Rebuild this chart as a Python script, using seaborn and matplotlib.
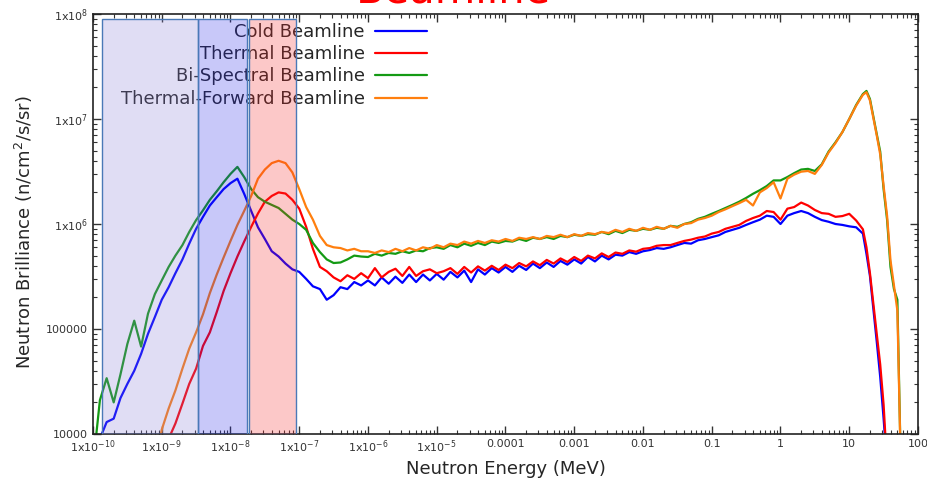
import matplotlib
matplotlib.use("Agg")
import matplotlib.pyplot as plt
from matplotlib.ticker import LogLocator, NullFormatter
import seaborn as sns
import pandas as pd
import numpy as np

# energy grid (MeV) shared by the four spectra
energy_mev = [
    1.0e-10, 1.26e-10, 1.58e-10, 2.0e-10, 2.51e-10, 3.16e-10, 3.98e-10, 5.01e-10, 6.31e-10, 7.94e-10,
    1.0e-9, 1.26e-9, 1.58e-9, 2.0e-9, 2.51e-9, 3.16e-9, 3.98e-9, 5.01e-9, 6.31e-9, 7.94e-9,
    1.0e-8, 1.26e-8, 1.58e-8, 2.0e-8, 2.51e-8, 3.16e-8, 3.98e-8, 5.01e-8, 6.31e-8, 7.94e-8,
    1.0e-7, 1.26e-7, 1.58e-7, 2.0e-7, 2.51e-7, 3.16e-7, 3.98e-7, 5.01e-7, 6.31e-7, 7.94e-7,
    1.0e-6, 1.26e-6, 1.58e-6, 2.0e-6, 2.51e-6, 3.16e-6, 3.98e-6, 5.01e-6, 6.31e-6, 7.94e-6,
    1.0e-5, 1.26e-5, 1.58e-5, 2.0e-5, 2.51e-5, 3.16e-5, 3.98e-5, 5.01e-5, 6.31e-5, 7.94e-5,
    1.0e-4, 1.26e-4, 1.58e-4, 2.0e-4, 2.51e-4, 3.16e-4, 3.98e-4, 5.01e-4, 6.31e-4, 7.94e-4,
    1.0e-3, 1.26e-3, 1.58e-3, 2.0e-3, 2.51e-3, 3.16e-3, 3.98e-3, 5.01e-3, 6.31e-3, 7.94e-3,
    1.0e-2, 1.26e-2, 1.58e-2, 2.0e-2, 2.51e-2, 3.16e-2, 3.98e-2, 5.01e-2, 6.31e-2, 7.94e-2,
    0.1, 0.126, 0.158, 0.2, 0.251, 0.316, 0.398, 0.501, 0.631, 0.794,
    1.0, 1.26, 1.58, 2.0, 2.51, 3.16, 3.98, 5.01, 6.31, 7.94,
    10.0, 12.6, 15.8, 17.8, 20.0, 25.1, 28.2, 31.6, 35.5, 39.8, 44.7, 50.1, 56.2,
]

cold = [
    5e3, 9e3, 1.3e4, 1.4e4, 2.2e4, 3.0e4, 4.0e4, 5.8e4, 9.0e4, 1.3e5,
    1.9e5, 2.5e5, 3.4e5, 4.6e5, 6.5e5, 9.0e5, 1.17e6, 1.5e6, 1.8e6, 2.15e6,
    2.45e6, 2.7e6, 1.94e6, 1.33e6, 9.3e5, 7.2e5, 5.5e5, 4.9e5, 4.2e5, 3.7e5,
    3.5e5, 3.0e5, 2.55e5, 2.4e5, 1.9e5, 2.1e5, 2.5e5, 2.4e5, 2.8e5, 2.6e5,
    2.9e5, 2.6e5, 3.1e5, 2.7e5, 3.15e5, 2.75e5, 3.3e5, 2.8e5, 3.3e5, 2.9e5,
    3.35e5, 2.95e5, 3.5e5, 3.1e5, 3.6e5, 2.8e5, 3.7e5, 3.3e5, 3.8e5, 3.45e5,
    3.9e5, 3.5e5, 4.0e5, 3.65e5, 4.2e5, 3.8e5, 4.3e5, 3.9e5, 4.45e5, 4.1e5,
    4.6e5, 4.2e5, 4.85e5, 4.4e5, 5.0e5, 4.6e5, 5.1e5, 5.0e5, 5.4e5, 5.2e5,
    5.5e5, 5.65e5, 5.9e5, 5.8e5, 6.0e5, 6.3e5, 6.6e5, 6.5e5, 7.0e5, 7.2e5,
    7.5e5, 7.8e5, 8.4e5, 8.8e5, 9.2e5, 9.8e5, 1.04e6, 1.1e6, 1.2e6, 1.17e6,
    1.0e6, 1.2e6, 1.27e6, 1.33e6, 1.27e6, 1.17e6, 1.09e6, 1.05e6, 1.0e6, 9.8e5,
    9.5e5, 9.3e5, 8.1e5, 5.2e5, 3.2e5, 7.6e4, 3.5e4, 1.4e4, 5e3, 5e3, 5e3, 5e3, 5e3,
]

thermal = [
    5e3, 5e3, 5e3, 5e3, 5e3, 5e3, 5e3, 5e3, 5e3, 5e3,
    5e3, 9e3, 1.26e4, 1.95e4, 3.0e4, 4.2e4, 6.9e4, 9.3e4, 1.45e5, 2.3e5,
    3.4e5, 4.9e5, 6.8e5, 9.4e5, 1.26e6, 1.63e6, 1.85e6, 2.0e6, 1.95e6, 1.7e6,
    1.4e6, 9.4e5, 5.8e5, 3.9e5, 3.55e5, 3.1e5, 2.85e5, 3.25e5, 3.0e5, 3.4e5,
    3.05e5, 3.8e5, 3.1e5, 3.5e5, 3.75e5, 3.2e5, 3.9e5, 3.2e5, 3.55e5, 3.7e5,
    3.4e5, 3.55e5, 3.8e5, 3.35e5, 3.9e5, 3.45e5, 3.95e5, 3.6e5, 4.0e5, 3.65e5,
    4.1e5, 3.8e5, 4.25e5, 3.95e5, 4.4e5, 4.05e5, 4.55e5, 4.2e5, 4.7e5, 4.35e5,
    4.85e5, 4.45e5, 5.0e5, 4.7e5, 5.25e5, 4.85e5, 5.35e5, 5.2e5, 5.6e5, 5.45e5,
    5.8e5, 5.9e5, 6.2e5, 6.3e5, 6.3e5, 6.6e5, 6.9e5, 7.1e5, 7.4e5, 7.6e5,
    8.1e5, 8.4e5, 9.0e5, 9.4e5, 9.8e5, 1.07e6, 1.14e6, 1.2e6, 1.33e6, 1.3e6,
    1.1e6, 1.4e6, 1.45e6, 1.6e6, 1.5e6, 1.36e6, 1.27e6, 1.25e6, 1.17e6, 1.19e6,
    1.25e6, 1.08e6, 8.9e5, 6.0e5, 3.4e5, 9.0e4, 4.6e4, 1.9e4, 5e3, 5e3, 5e3, 5e3, 5e3,
]

bispectral = [
    5e3, 2.1e4, 3.4e4, 2.0e4, 3.7e4, 7.2e4, 1.2e5, 6.8e4, 1.4e5, 2.15e5,
    2.9e5, 3.9e5, 5.0e5, 6.3e5, 8.4e5, 1.09e6, 1.35e6, 1.7e6, 2.05e6, 2.5e6,
    3.0e6, 3.5e6, 2.8e6, 2.15e6, 1.8e6, 1.63e6, 1.52e6, 1.42e6, 1.25e6, 1.1e6,
    1.0e6, 8.8e5, 6.6e5, 5.4e5, 4.6e5, 4.25e5, 4.3e5, 4.6e5, 5.0e5, 4.9e5,
    4.85e5, 5.2e5, 5.0e5, 5.3e5, 5.2e5, 5.5e5, 5.3e5, 5.6e5, 5.5e5, 5.9e5,
    6.0e5, 5.8e5, 6.3e5, 6.0e5, 6.5e5, 6.2e5, 6.6e5, 6.3e5, 6.8e5, 6.6e5,
    6.9e5, 6.8e5, 7.2e5, 6.9e5, 7.4e5, 7.2e5, 7.5e5, 7.2e5, 7.7e5, 7.5e5,
    7.9e5, 7.7e5, 8.0e5, 7.9e5, 8.4e5, 8.0e5, 8.6e5, 8.2e5, 8.8e5, 8.6e5,
    9.0e5, 8.8e5, 9.2e5, 9.0e5, 9.6e5, 9.4e5, 1.0e6, 1.04e6, 1.12e6, 1.17e6,
    1.25e6, 1.33e6, 1.42e6, 1.52e6, 1.63e6, 1.77e6, 1.94e6, 2.1e6, 2.3e6, 2.6e6,
    2.6e6, 2.8e6, 3.05e6, 3.3e6, 3.35e6, 3.2e6, 3.7e6, 4.9e6, 6.0e6, 7.5e6,
    1.0e7, 1.36e7, 1.73e7, 1.85e7, 1.55e7, 7.2e6, 4.9e6, 2.15e6, 1.1e6, 3.9e5, 2.4e5, 1.9e5, 5e3,
]

thermal_forward = [
    5e3, 5e3, 5e3, 5e3, 5e3, 5e3, 5e3, 5e3, 5e3, 5e3,
    1.1e4, 1.75e4, 2.6e4, 4.2e4, 6.5e4, 9.3e4, 1.38e5, 2.2e5, 3.3e5, 4.8e5,
    6.9e5, 9.8e5, 1.33e6, 1.85e6, 2.7e6, 3.3e6, 3.8e6, 4.0e6, 3.8e6, 3.1e6,
    2.15e6, 1.45e6, 1.1e6, 7.7e5, 6.3e5, 6.0e5, 5.9e5, 5.6e5, 5.8e5, 5.5e5,
    5.5e5, 5.3e5, 5.6e5, 5.4e5, 5.8e5, 5.5e5, 5.9e5, 5.6e5, 6.0e5, 5.8e5,
    6.3e5, 6.0e5, 6.5e5, 6.3e5, 6.8e5, 6.5e5, 6.9e5, 6.6e5, 7.0e5, 6.8e5,
    7.2e5, 6.9e5, 7.4e5, 7.2e5, 7.5e5, 7.2e5, 7.7e5, 7.5e5, 7.9e5, 7.5e5,
    8.0e5, 7.7e5, 8.2e5, 8.0e5, 8.4e5, 8.2e5, 8.8e5, 8.4e5, 9.0e5, 8.6e5,
    9.2e5, 8.8e5, 9.4e5, 9.0e5, 9.6e5, 9.2e5, 1.0e6, 1.02e6, 1.1e6, 1.14e6,
    1.2e6, 1.3e6, 1.38e6, 1.48e6, 1.58e6, 1.7e6, 1.5e6, 2.0e6, 2.2e6, 2.5e6,
    1.75e6, 2.7e6, 2.95e6, 3.15e6, 3.2e6, 3.0e6, 3.65e6, 4.8e6, 5.9e6, 7.5e6,
    1.0e7, 1.34e7, 1.7e7, 1.8e7, 1.5e7, 7.0e6, 4.6e6, 2.3e6, 1.2e6, 4.5e5, 2.6e5, 1.5e5, 5e3,
]

beamlines = ["Cold Beamline", "Thermal Beamline", "Bi-Spectral Beamline", "Thermal-Forward Beamline"]
colors = ["#0000ff", "#ff0000", "#149a14", "#ff7f0e"]

# shaded energy bands
band_lo = [1.35e-10, 3.4e-9, 1.87e-8]
band_hi = [3.4e-9, 1.72e-8, 9.1e-8]
band_colors = [(0.53, 0.48, 0.84, 0.25), (0.14, 0.14, 0.92, 0.25), (0.97, 0.15, 0.15, 0.25)]

xticks = [1e-10, 1e-9, 1e-8, 1e-7, 1e-6, 1e-5, 1e-4, 1e-3, 1e-2, 1e-1, 1, 10, 100]
xtick_labels = [r"1x10$^{-10}$", r"1x10$^{-9}$", r"1x10$^{-8}$", r"1x10$^{-7}$", r"1x10$^{-6}$",
                r"1x10$^{-5}$", "0.0001", "0.001", "0.01", "0.1", "1", "10", "100"]
yticks = [1e4, 1e5, 1e6, 1e7, 1e8]
ytick_labels = ["10000", "100000", r"1x10$^{6}$", r"1x10$^{7}$", r"1x10$^{8}$"]

df = pd.DataFrame({
    "energy": energy_mev * 4,
    "brilliance": cold + thermal + bispectral + thermal_forward,
    "beamline": sum([[b] * len(energy_mev) for b in beamlines], []),
})

sns.set_style("ticks")
plt.rcParams["font.family"] = ["DejaVu Sans"]

fig = plt.figure(figsize=(9.27, 4.8), dpi=100)
ax = fig.add_axes([93 / 927, 1 - 434 / 480, 825 / 927, 420 / 480])

sns.lineplot(data=df, x="energy", y="brilliance", hue="beamline", hue_order=beamlines,
             palette=colors, estimator=None, sort=False, linewidth=1.6, legend=False, ax=ax)

ax.set_xscale("log")
ax.set_yscale("log")
ax.set_xlim(1e-10, 100)
ax.set_ylim(1e4, 1e8)

# legend (labels left of the lines)
handles = [plt.Line2D([], [], color=c, lw=1.6) for c in colors]
ax.legend(handles, beamlines, loc="upper right", bbox_to_anchor=(0.405, 0.979), frameon=False,
          markerfirst=False, fontsize=13, handlelength=2.9, handletextpad=0.55,
          labelspacing=0.24, borderpad=0, borderaxespad=0)

for lo, hi, fc in zip(band_lo, band_hi, band_colors):
    ax.axvspan(lo, hi, ymin=0, ymax=0.988, facecolor=fc, edgecolor="#4a79b7", lw=1, zorder=10)

ax.set_xticks(xticks, xtick_labels, fontsize=8)
ax.set_yticks(yticks, ytick_labels, fontsize=8)
ax.xaxis.set_minor_locator(LogLocator(base=10, subs=np.arange(2, 10), numticks=200))
ax.yaxis.set_minor_locator(LogLocator(base=10, subs=np.arange(2, 10), numticks=200))
ax.xaxis.set_minor_formatter(NullFormatter())
ax.yaxis.set_minor_formatter(NullFormatter())
ax.tick_params(which="both", direction="in", top=True, right=True, colors="#333333")
ax.tick_params(which="major", length=6, width=1)
ax.tick_params(which="minor", length=3, width=0.8)
for s in ax.spines.values():
    s.set_linewidth(1.2)
    s.set_color("#222222")

ax.set_xlabel("Neutron Energy (MeV)", fontsize=13, labelpad=3)
ax.set_ylabel(r"Neutron Brilliance (n/cm$^2$/s/sr)", fontsize=13)
ax.yaxis.set_label_coords(-0.07, 0.48)

fig.text(0.489, 0.995, "Beamline", color="red", fontsize=30, ha="center", va="baseline")

fig.savefig("out.png", dpi=100)
